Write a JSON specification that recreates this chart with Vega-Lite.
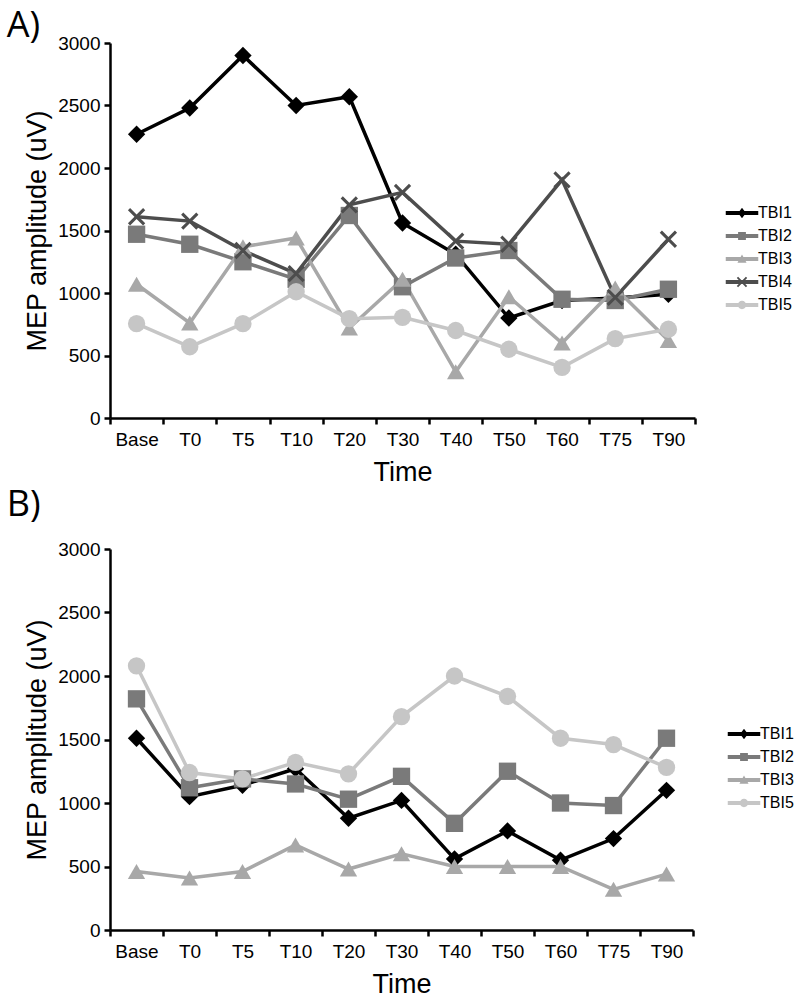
{
  "$schema": "https://vega.github.io/schema/vega-lite/v6.json",
  "padding": {"left": 6, "top": 8, "right": 5, "bottom": 5},
  "background": "white",
  "config": {
    "view": {"stroke": null},
    "font": "Liberation Sans",
    "axis": {
      "grid": false,
      "domainColor": "black",
      "domainWidth": 2.5,
      "tickColor": "black",
      "tickWidth": 2.5,
      "tickSize": 6,
      "labelColor": "black",
      "labelFont": "Liberation Sans",
      "labelFontSize": 19,
      "titleFont": "Liberation Sans",
      "titleFontSize": 27,
      "titleFontWeight": "normal",
      "titleColor": "black"
    },
    "legend": {
      "labelFont": "Liberation Sans",
      "labelFontSize": 16,
      "labelColor": "black",
      "symbolSize": 676,
      "symbolStrokeWidth": 0,
      "symbolOpacity": 1,
      "labelOffset": 3,
      "rowPadding": 2,
      "title": null
    },
    "title": {"font": "Open Sans", "fontSize": 36, "fontWeight": "normal", "color": "black", "anchor": "start", "frame": "bounds"}
  },
  "datasets": {
    "A": [
      {"subject": "TBI1", "time": "Base", "value": 2270}, {"subject": "TBI1", "time": "T0", "value": 2480}, {"subject": "TBI1", "time": "T5", "value": 2900}, {"subject": "TBI1", "time": "T10", "value": 2500}, {"subject": "TBI1", "time": "T20", "value": 2570}, {"subject": "TBI1", "time": "T30", "value": 1560}, {"subject": "TBI1", "time": "T40", "value": 1310}, {"subject": "TBI1", "time": "T50", "value": 800}, {"subject": "TBI1", "time": "T60", "value": 940}, {"subject": "TBI1", "time": "T75", "value": 960}, {"subject": "TBI1", "time": "T90", "value": 990},
      {"subject": "TBI2", "time": "Base", "value": 1470}, {"subject": "TBI2", "time": "T0", "value": 1390}, {"subject": "TBI2", "time": "T5", "value": 1250}, {"subject": "TBI2", "time": "T10", "value": 1110}, {"subject": "TBI2", "time": "T20", "value": 1620}, {"subject": "TBI2", "time": "T30", "value": 1050}, {"subject": "TBI2", "time": "T40", "value": 1280}, {"subject": "TBI2", "time": "T50", "value": 1340}, {"subject": "TBI2", "time": "T60", "value": 950}, {"subject": "TBI2", "time": "T75", "value": 940}, {"subject": "TBI2", "time": "T90", "value": 1030},
      {"subject": "TBI3", "time": "Base", "value": 1070}, {"subject": "TBI3", "time": "T0", "value": 760}, {"subject": "TBI3", "time": "T5", "value": 1370}, {"subject": "TBI3", "time": "T10", "value": 1440}, {"subject": "TBI3", "time": "T20", "value": 720}, {"subject": "TBI3", "time": "T30", "value": 1110}, {"subject": "TBI3", "time": "T40", "value": 370}, {"subject": "TBI3", "time": "T50", "value": 970}, {"subject": "TBI3", "time": "T60", "value": 600}, {"subject": "TBI3", "time": "T75", "value": 1040}, {"subject": "TBI3", "time": "T90", "value": 620},
      {"subject": "TBI4", "time": "Base", "value": 1610}, {"subject": "TBI4", "time": "T0", "value": 1575}, {"subject": "TBI4", "time": "T5", "value": 1340}, {"subject": "TBI4", "time": "T10", "value": 1155}, {"subject": "TBI4", "time": "T20", "value": 1705}, {"subject": "TBI4", "time": "T30", "value": 1805}, {"subject": "TBI4", "time": "T40", "value": 1415}, {"subject": "TBI4", "time": "T50", "value": 1390}, {"subject": "TBI4", "time": "T60", "value": 1905}, {"subject": "TBI4", "time": "T75", "value": 965}, {"subject": "TBI4", "time": "T90", "value": 1430},
      {"subject": "TBI5", "time": "Base", "value": 755}, {"subject": "TBI5", "time": "T0", "value": 570}, {"subject": "TBI5", "time": "T5", "value": 755}, {"subject": "TBI5", "time": "T10", "value": 1010}, {"subject": "TBI5", "time": "T20", "value": 795}, {"subject": "TBI5", "time": "T30", "value": 805}, {"subject": "TBI5", "time": "T40", "value": 700}, {"subject": "TBI5", "time": "T50", "value": 550}, {"subject": "TBI5", "time": "T60", "value": 405}, {"subject": "TBI5", "time": "T75", "value": 635}, {"subject": "TBI5", "time": "T90", "value": 710}
    ],
    "B": [
      {"subject": "TBI1", "time": "Base", "value": 1510}, {"subject": "TBI1", "time": "T0", "value": 1050}, {"subject": "TBI1", "time": "T5", "value": 1140}, {"subject": "TBI1", "time": "T10", "value": 1270}, {"subject": "TBI1", "time": "T20", "value": 880}, {"subject": "TBI1", "time": "T30", "value": 1020}, {"subject": "TBI1", "time": "T40", "value": 560}, {"subject": "TBI1", "time": "T50", "value": 780}, {"subject": "TBI1", "time": "T60", "value": 550}, {"subject": "TBI1", "time": "T75", "value": 720}, {"subject": "TBI1", "time": "T90", "value": 1100},
      {"subject": "TBI2", "time": "Base", "value": 1820}, {"subject": "TBI2", "time": "T0", "value": 1120}, {"subject": "TBI2", "time": "T5", "value": 1190}, {"subject": "TBI2", "time": "T10", "value": 1150}, {"subject": "TBI2", "time": "T20", "value": 1030}, {"subject": "TBI2", "time": "T30", "value": 1210}, {"subject": "TBI2", "time": "T40", "value": 840}, {"subject": "TBI2", "time": "T50", "value": 1250}, {"subject": "TBI2", "time": "T60", "value": 1000}, {"subject": "TBI2", "time": "T75", "value": 980}, {"subject": "TBI2", "time": "T90", "value": 1510},
      {"subject": "TBI3", "time": "Base", "value": 460}, {"subject": "TBI3", "time": "T0", "value": 410}, {"subject": "TBI3", "time": "T5", "value": 460}, {"subject": "TBI3", "time": "T10", "value": 670}, {"subject": "TBI3", "time": "T20", "value": 480}, {"subject": "TBI3", "time": "T30", "value": 600}, {"subject": "TBI3", "time": "T40", "value": 500}, {"subject": "TBI3", "time": "T50", "value": 500}, {"subject": "TBI3", "time": "T60", "value": 500}, {"subject": "TBI3", "time": "T75", "value": 320}, {"subject": "TBI3", "time": "T90", "value": 440},
      {"subject": "TBI5", "time": "Base", "value": 2080}, {"subject": "TBI5", "time": "T0", "value": 1240}, {"subject": "TBI5", "time": "T5", "value": 1190}, {"subject": "TBI5", "time": "T10", "value": 1320}, {"subject": "TBI5", "time": "T20", "value": 1230}, {"subject": "TBI5", "time": "T30", "value": 1680}, {"subject": "TBI5", "time": "T40", "value": 2000}, {"subject": "TBI5", "time": "T50", "value": 1840}, {"subject": "TBI5", "time": "T60", "value": 1510}, {"subject": "TBI5", "time": "T75", "value": 1460}, {"subject": "TBI5", "time": "T90", "value": 1280}
    ]
  },
  "resolve": {
    "scale": {"color": "independent", "shape": "independent"},
    "legend": {"color": "independent", "shape": "independent"}
  },
  "spacing": 2,
  "vconcat": [
    {
      "title": {"text": "A)", "dx": -17, "offset": -11},
      "width": 585,
      "height": 375,
      "data": {"name": "A"},
      "resolve": {"scale": {"shape": "independent"}, "legend": {"color": "independent", "shape": "independent"}},
      "layer": [
        {
          "mark": {"type": "line", "strokeWidth": 3.5},
          "encoding": {
            "x": {"field": "time", "type": "ordinal", "sort": null, "scale": {"type": "band", "paddingInner": 0, "paddingOuter": 0}, "axis": {"title": "Time", "labelAngle": 0, "tickBand": "extent", "labelPadding": 6, "titlePadding": 10}},
            "y": {"field": "value", "type": "quantitative", "scale": {"domain": [0, 3000]}, "axis": {"title": "MEP amplitude (uV)", "format": "d", "values": [0, 500, 1000, 1500, 2000, 2500, 3000], "labelPadding": 4, "titlePadding": 6}},
            "color": {"field": "subject", "type": "nominal", "scale": {"domain": ["TBI1", "TBI2", "TBI3", "TBI4", "TBI5"], "range": ["#000000", "#7a7a7a", "#a8a8a8", "#4d4d4d", "#c6c6c6"]}, "legend": null}
          }
        },
        {
          "mark": {"type": "point", "filled": true, "size": 300, "opacity": 1},
          "encoding": {
            "x": {"field": "time", "type": "ordinal", "sort": null},
            "y": {"field": "value", "type": "quantitative"},
            "color": {"field": "subject", "type": "nominal", "legend": null},
            "shape": {"field": "subject", "type": "nominal", "legend": null, "scale": {"domain": ["TBI1", "TBI2", "TBI3", "TBI4", "TBI5"], "range": ["diamond", "square", "triangle-up", "M-1,-0.75L-0.75,-1L0,-0.25L0.75,-1L1,-0.75L0.25,0L1,0.75L0.75,1L0,0.25L-0.75,1L-1,0.75L-0.25,0Z", "circle"]}}
          }
        },
        {
          "transform": [{"filter": "false"}],
          "mark": {"type": "point", "filled": true, "size": 676, "opacity": 1},
          "encoding": {
            "x": {"field": "time", "type": "ordinal", "sort": null},
            "y": {"field": "value", "type": "quantitative"},
            "color": {"field": "subject", "type": "nominal", "legend": {"orient": "none", "legendX": 619, "legendY": 157}},
            "shape": {"field": "subject", "type": "nominal", "legend": {"orient": "none", "legendX": 619, "legendY": 157}, "scale": {"domain": ["TBI1", "TBI2", "TBI3", "TBI4", "TBI5"], "range": [
              "M-1.25,-0.15L1.25,-0.15L1.25,0.15L-1.25,0.15Z M0,-0.4L0.3,0L0,0.4L-0.3,0Z",
              "M-1.25,-0.15L1.25,-0.15L1.25,0.15L-1.25,0.15Z M-0.3,-0.3L0.3,-0.3L0.3,0.3L-0.3,0.3Z",
              "M-1.25,-0.15L1.25,-0.15L1.25,0.15L-1.25,0.15Z M-0.35,0.28L0,-0.35L0.35,0.28Z",
              "M-1.25,-0.15L1.25,-0.15L1.25,0.15L-1.25,0.15Z M-0.4,-0.3L-0.3,-0.4L0,-0.1L0.3,-0.4L0.4,-0.3L0.1,0L0.4,0.3L0.3,0.4L0,0.1L-0.3,0.4L-0.4,0.3L-0.1,0Z",
              "M-1.25,-0.15L1.25,-0.15L1.25,0.15L-1.25,0.15Z M-0.32,0A0.32,0.32,0,1,1,0.32,0A0.32,0.32,0,1,1,-0.32,0Z"
            ]}}
          }
        }
      ]
    },
    {
      "title": {"text": "B)", "dx": -17, "offset": 16},
      "width": 583,
      "height": 381,
      "data": {"name": "B"},
      "resolve": {"scale": {"shape": "independent"}, "legend": {"color": "independent", "shape": "independent"}},
      "layer": [
        {
          "mark": {"type": "line", "strokeWidth": 3.5},
          "encoding": {
            "x": {"field": "time", "type": "ordinal", "sort": null, "scale": {"type": "band", "paddingInner": 0, "paddingOuter": 0}, "axis": {"title": "Time", "labelAngle": 0, "tickBand": "extent", "labelPadding": 6, "titlePadding": 10}},
            "y": {"field": "value", "type": "quantitative", "scale": {"domain": [0, 3000]}, "axis": {"title": "MEP amplitude (uV)", "format": "d", "values": [0, 500, 1000, 1500, 2000, 2500, 3000], "labelPadding": 4, "titlePadding": 6}},
            "color": {"field": "subject", "type": "nominal", "scale": {"domain": ["TBI1", "TBI2", "TBI3", "TBI5"], "range": ["#000000", "#7a7a7a", "#a8a8a8", "#c6c6c6"]}, "legend": null}
          }
        },
        {
          "mark": {"type": "point", "filled": true, "size": 300, "opacity": 1},
          "encoding": {
            "x": {"field": "time", "type": "ordinal", "sort": null},
            "y": {"field": "value", "type": "quantitative"},
            "color": {"field": "subject", "type": "nominal", "legend": null},
            "shape": {"field": "subject", "type": "nominal", "legend": null, "scale": {"domain": ["TBI1", "TBI2", "TBI3", "TBI5"], "range": ["diamond", "square", "triangle-up", "circle"]}}
          }
        },
        {
          "transform": [{"filter": "false"}],
          "mark": {"type": "point", "filled": true, "size": 676, "opacity": 1},
          "encoding": {
            "x": {"field": "time", "type": "ordinal", "sort": null},
            "y": {"field": "value", "type": "quantitative"},
            "color": {"field": "subject", "type": "nominal", "legend": {"orient": "none", "legendX": 621, "legendY": 172}},
            "shape": {"field": "subject", "type": "nominal", "legend": {"orient": "none", "legendX": 621, "legendY": 172}, "scale": {"domain": ["TBI1", "TBI2", "TBI3", "TBI5"], "range": [
              "M-1.25,-0.15L1.25,-0.15L1.25,0.15L-1.25,0.15Z M0,-0.4L0.3,0L0,0.4L-0.3,0Z",
              "M-1.25,-0.15L1.25,-0.15L1.25,0.15L-1.25,0.15Z M-0.3,-0.3L0.3,-0.3L0.3,0.3L-0.3,0.3Z",
              "M-1.25,-0.15L1.25,-0.15L1.25,0.15L-1.25,0.15Z M-0.35,0.28L0,-0.35L0.35,0.28Z",
              "M-1.25,-0.15L1.25,-0.15L1.25,0.15L-1.25,0.15Z M-0.32,0A0.32,0.32,0,1,1,0.32,0A0.32,0.32,0,1,1,-0.32,0Z"
            ]}}
          }
        }
      ]
    }
  ]
}
